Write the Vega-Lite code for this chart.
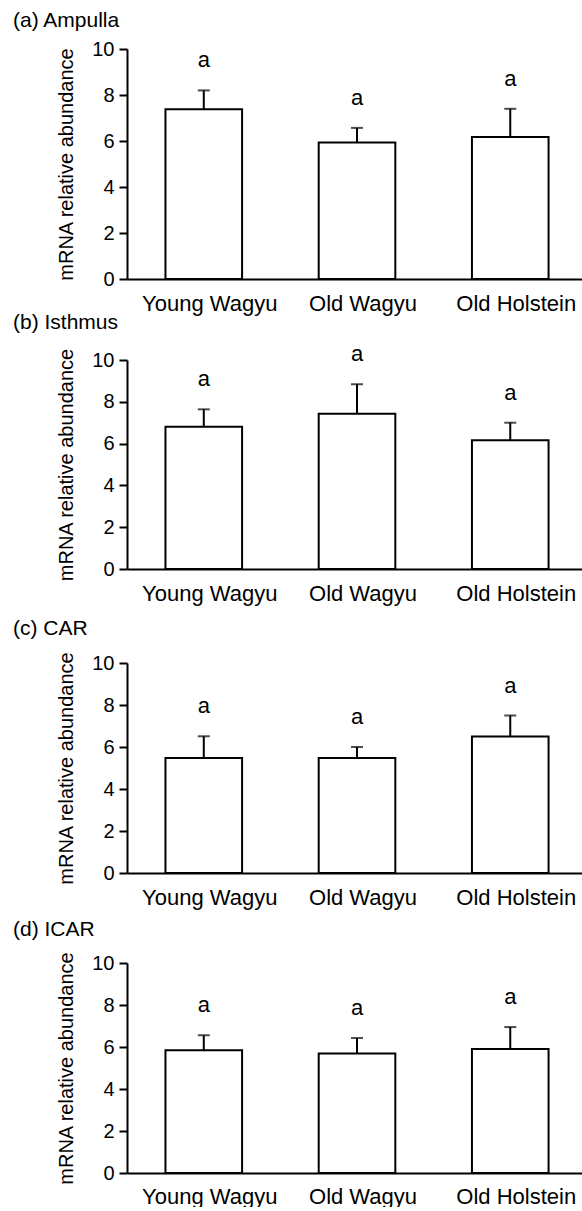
{
  "$schema": "https://vega.github.io/schema/vega-lite/v6.json",
  "padding": {"left": 13, "top": 10, "right": 0, "bottom": 0},
  "background": "white",
  "config": {
    "font": "Liberation Sans",
    "view": {"stroke": null},
    "axis": {"domainColor": "black", "domainWidth": 2, "tickColor": "black", "tickWidth": 2, "labelColor": "black", "titleColor": "black", "grid": false},
    "title": {"fontWeight": "normal", "fontSize": 21, "color": "black", "anchor": "start", "frame": "group", "dx": -114}
  },
  "datasets": {
    "expr": [
      {"region": "Ampulla", "group": "Young Wagyu", "mean": 7.38, "upper": 8.2, "letter": "a"},
      {"region": "Ampulla", "group": "Old Wagyu", "mean": 5.93, "upper": 6.57, "letter": "a"},
      {"region": "Ampulla", "group": "Old Holstein", "mean": 6.17, "upper": 7.4, "letter": "a"},
      {"region": "Isthmus", "group": "Young Wagyu", "mean": 6.81, "upper": 7.64, "letter": "a"},
      {"region": "Isthmus", "group": "Old Wagyu", "mean": 7.43, "upper": 8.84, "letter": "a"},
      {"region": "Isthmus", "group": "Old Holstein", "mean": 6.16, "upper": 7.0, "letter": "a"},
      {"region": "CAR", "group": "Young Wagyu", "mean": 5.48, "upper": 6.51, "letter": "a"},
      {"region": "CAR", "group": "Old Wagyu", "mean": 5.48, "upper": 6.0, "letter": "a"},
      {"region": "CAR", "group": "Old Holstein", "mean": 6.5, "upper": 7.5, "letter": "a"},
      {"region": "ICAR", "group": "Young Wagyu", "mean": 5.84, "upper": 6.56, "letter": "a"},
      {"region": "ICAR", "group": "Old Wagyu", "mean": 5.69, "upper": 6.43, "letter": "a"},
      {"region": "ICAR", "group": "Old Holstein", "mean": 5.9, "upper": 6.95, "letter": "a"}
    ]
  },
  "spacing": 81,
  "bounds": "flush",
  "vconcat": [
    {
      "title": {"text": "(a) Ampulla", "offset": 8},
      "width": 455, "height": 230,
      "data": {"name": "expr"},
      "transform": [{"filter": "datum.region == 'Ampulla'"}],
      "encoding": {
        "x": {"field": "group", "type": "nominal", "sort": ["Young Wagyu", "Old Wagyu", "Old Holstein"],
              "scale": {"paddingInner": 0.5, "paddingOuter": 0.2346, "align": 0.535},
              "axis": {"title": null, "labelAngle": 0, "ticks": false, "labelPadding": 14, "labelFontSize": 22, "labelOffset": 6}}
      },
      "layer": [
        {"mark": {"type": "bar", "fill": "white", "stroke": "black", "strokeWidth": 2},
         "encoding": {"y": {"field": "mean", "type": "quantitative", "scale": {"domain": [0, 10]},
           "axis": {"title": "mRNA relative abundance", "titleFontSize": 20, "titleFontWeight": "normal", "titlePadding": 15, "labelFontSize": 20, "labelPadding": 5, "tickSize": 8, "values": [0, 2, 4, 6, 8, 10]}}}},
        {"mark": {"type": "rule", "color": "black", "strokeWidth": 2},
         "encoding": {"y": {"field": "mean", "type": "quantitative"}, "y2": {"field": "upper"}}},
        {"mark": {"type": "tick", "color": "black", "thickness": 2, "size": 12},
         "encoding": {"y": {"field": "upper", "type": "quantitative"}}},
        {"mark": {"type": "text", "dy": -30, "fontSize": 22, "baseline": "middle", "color": "black"},
         "encoding": {"y": {"field": "upper", "type": "quantitative"}, "text": {"field": "letter"}}}
      ]
    },
    {
      "spacing": 94,
      "bounds": "flush",
      "vconcat": [
        {
          "title": {"text": "(b) Isthmus", "offset": 10},
          "width": 455, "height": 209,
          "data": {"name": "expr"},
          "transform": [{"filter": "datum.region == 'Isthmus'"}],
          "encoding": {
            "x": {"field": "group", "type": "nominal", "sort": ["Young Wagyu", "Old Wagyu", "Old Holstein"],
                  "scale": {"paddingInner": 0.5, "paddingOuter": 0.2346, "align": 0.535},
                  "axis": {"title": null, "labelAngle": 0, "ticks": false, "labelPadding": 14, "labelFontSize": 22, "labelOffset": 6}}
          },
          "layer": [
            {"mark": {"type": "bar", "fill": "white", "stroke": "black", "strokeWidth": 2},
             "encoding": {"y": {"field": "mean", "type": "quantitative", "scale": {"domain": [0, 10]},
               "axis": {"title": "mRNA relative abundance", "titleFontSize": 20, "titleFontWeight": "normal", "titlePadding": 15, "labelFontSize": 20, "labelPadding": 5, "tickSize": 8, "values": [0, 2, 4, 6, 8, 10]}}}},
            {"mark": {"type": "rule", "color": "black", "strokeWidth": 2},
             "encoding": {"y": {"field": "mean", "type": "quantitative"}, "y2": {"field": "upper"}}},
            {"mark": {"type": "tick", "color": "black", "thickness": 2, "size": 12},
             "encoding": {"y": {"field": "upper", "type": "quantitative"}}},
            {"mark": {"type": "text", "dy": -30, "fontSize": 22, "baseline": "middle", "color": "black"},
             "encoding": {"y": {"field": "upper", "type": "quantitative"}, "text": {"field": "letter"}}}
          ]
        },
        {
          "spacing": 90,
          "bounds": "flush",
          "vconcat": [
            {
              "title": {"text": "(c) CAR", "offset": 12},
              "width": 455, "height": 210,
              "data": {"name": "expr"},
              "transform": [{"filter": "datum.region == 'CAR'"}],
              "encoding": {
                "x": {"field": "group", "type": "nominal", "sort": ["Young Wagyu", "Old Wagyu", "Old Holstein"],
                      "scale": {"paddingInner": 0.5, "paddingOuter": 0.2346, "align": 0.535},
                      "axis": {"title": null, "labelAngle": 0, "ticks": false, "labelPadding": 14, "labelFontSize": 22, "labelOffset": 6}}
              },
              "layer": [
                {"mark": {"type": "bar", "fill": "white", "stroke": "black", "strokeWidth": 2},
                 "encoding": {"y": {"field": "mean", "type": "quantitative", "scale": {"domain": [0, 10]},
                   "axis": {"title": "mRNA relative abundance", "titleFontSize": 20, "titleFontWeight": "normal", "titlePadding": 15, "labelFontSize": 20, "labelPadding": 5, "tickSize": 8, "values": [0, 2, 4, 6, 8, 10]}}}},
                {"mark": {"type": "rule", "color": "black", "strokeWidth": 2},
                 "encoding": {"y": {"field": "mean", "type": "quantitative"}, "y2": {"field": "upper"}}},
                {"mark": {"type": "tick", "color": "black", "thickness": 2, "size": 12},
                 "encoding": {"y": {"field": "upper", "type": "quantitative"}}},
                {"mark": {"type": "text", "dy": -30, "fontSize": 22, "baseline": "middle", "color": "black"},
                 "encoding": {"y": {"field": "upper", "type": "quantitative"}, "text": {"field": "letter"}}}
              ]
            },
            {
              "title": {"text": "(d) ICAR", "offset": 11},
              "width": 455, "height": 210,
              "data": {"name": "expr"},
              "transform": [{"filter": "datum.region == 'ICAR'"}],
              "encoding": {
                "x": {"field": "group", "type": "nominal", "sort": ["Young Wagyu", "Old Wagyu", "Old Holstein"],
                      "scale": {"paddingInner": 0.5, "paddingOuter": 0.2346, "align": 0.535},
                      "axis": {"title": null, "labelAngle": 0, "ticks": false, "labelPadding": 13, "labelFontSize": 22, "labelOffset": 6}}
              },
              "layer": [
                {"mark": {"type": "bar", "fill": "white", "stroke": "black", "strokeWidth": 2},
                 "encoding": {"y": {"field": "mean", "type": "quantitative", "scale": {"domain": [0, 10]},
                   "axis": {"title": "mRNA relative abundance", "titleFontSize": 20, "titleFontWeight": "normal", "titlePadding": 15, "labelFontSize": 20, "labelPadding": 5, "tickSize": 8, "values": [0, 2, 4, 6, 8, 10]}}}},
                {"mark": {"type": "rule", "color": "black", "strokeWidth": 2},
                 "encoding": {"y": {"field": "mean", "type": "quantitative"}, "y2": {"field": "upper"}}},
                {"mark": {"type": "tick", "color": "black", "thickness": 2, "size": 12},
                 "encoding": {"y": {"field": "upper", "type": "quantitative"}}},
                {"mark": {"type": "text", "dy": -30, "fontSize": 22, "baseline": "middle", "color": "black"},
                 "encoding": {"y": {"field": "upper", "type": "quantitative"}, "text": {"field": "letter"}}}
              ]
            }
          ]
        }
      ]
    }
  ]
}
